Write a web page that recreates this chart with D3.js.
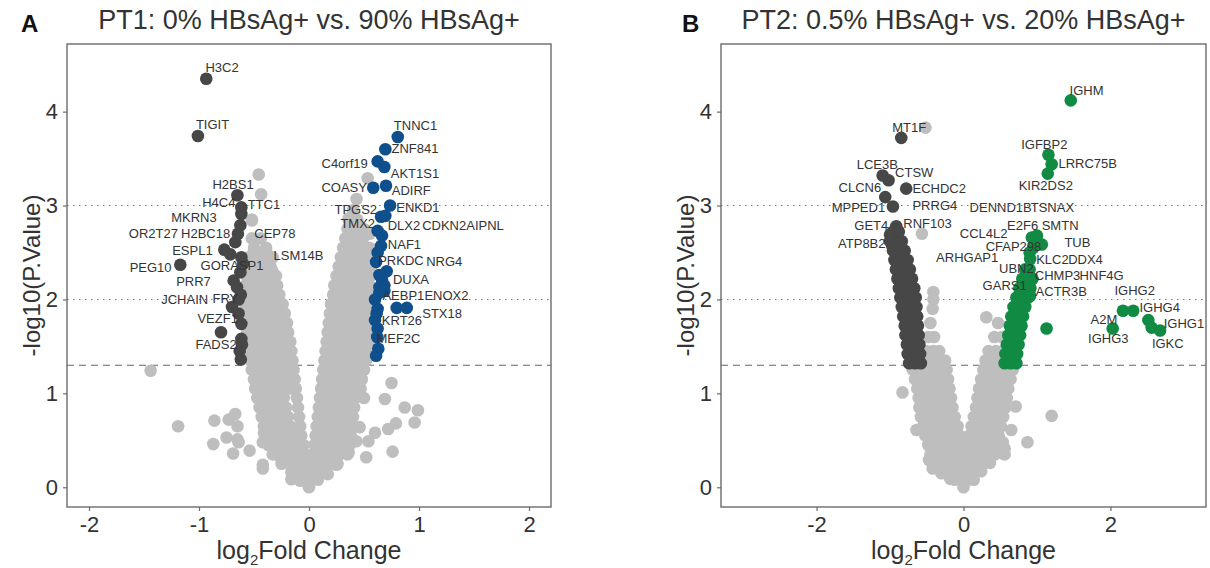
<!DOCTYPE html>
<html>
<head>
<meta charset="utf-8">
<title>Volcano plots PT1 / PT2</title>
<script src="https://cdn.jsdelivr.net/npm/d3@7"></script>
<style>
  body { margin: 0; background: #fff; }
  svg text { font-family: "Liberation Sans", Arial, sans-serif; }
</style>
</head>
<body>
<div id="chart"></div>
<script>
// ---- data (log2FC, -log10 P) ----
// rows: [y, x1, x2, ...]   pairs: [x, y]
var yTicks = [0, 1, 2, 3, 4];
var xTicksA = [-2, -1, 0, 1, 2];
var xTicksB = [-2, 0, 2];
var titles = ["PT1: 0% HBsAg+ vs. 90% HBsAg+", "PT2: 0.5% HBsAg+ vs. 20% HBsAg+"];
var panelTags = ["A", "B"];

var grayRowsA = [
  [0.0, 0.0],
  [0.08, -0.08, 0.0, 0.08],
  [0.16, -0.16, -0.08, 0.0, 0.08, 0.16],
  [0.25, -0.25, -0.17, -0.09, -0.02, 0.03, 0.11, 0.19, 0.26],
  [0.35, -0.33, -0.25, -0.17, -0.09, -0.03, 0.04, 0.12, 0.2, 0.28, 0.35],
  [0.45, -0.37, -0.29, -0.21, -0.13, -0.05, 0.05, 0.13, 0.21, 0.29, 0.37],
  [0.55, -0.39, -0.31, -0.23, -0.15, -0.07, 0.06, 0.14, 0.22, 0.3, 0.38],
  [0.65, -0.41, -0.33, -0.25, -0.17, -0.08, 0.07, 0.15, 0.23, 0.31, 0.39],
  [0.75, -0.43, -0.35, -0.27, -0.19, -0.09, 0.08, 0.16, 0.24, 0.32, 0.4],
  [0.85, -0.45, -0.37, -0.29, -0.21, -0.1, 0.09, 0.17, 0.25, 0.33, 0.41],
  [0.95, -0.47, -0.39, -0.31, -0.23, -0.11, 0.1, 0.18, 0.26, 0.34, 0.42],
  [1.05, -0.49, -0.41, -0.33, -0.25, -0.17, -0.12, 0.11, 0.19, 0.27, 0.35, 0.43, 0.47],
  [1.15, -0.5, -0.42, -0.34, -0.26, -0.18, -0.13, 0.12, 0.2, 0.28, 0.36, 0.44, 0.48],
  [1.25, -0.52, -0.44, -0.36, -0.28, -0.2, -0.14, 0.13, 0.21, 0.29, 0.37, 0.45, 0.5],
  [1.35, -0.53, -0.45, -0.37, -0.29, -0.21, -0.15, 0.14, 0.22, 0.3, 0.38, 0.46, 0.52],
  [1.45, -0.54, -0.46, -0.38, -0.3, -0.22, -0.16, 0.15, 0.23, 0.31, 0.39, 0.47, 0.54],
  [1.55, -0.55, -0.47, -0.39, -0.31, -0.23, -0.17, 0.16, 0.24, 0.32, 0.4, 0.48, 0.55],
  [1.65, -0.56, -0.48, -0.4, -0.32, -0.24, -0.19, 0.17, 0.25, 0.33, 0.41, 0.49, 0.56],
  [1.75, -0.57, -0.49, -0.41, -0.33, -0.25, -0.2, 0.18, 0.26, 0.34, 0.42, 0.5, 0.57],
  [1.85, -0.57, -0.49, -0.41, -0.33, -0.26, -0.22, 0.19, 0.27, 0.35, 0.43, 0.51, 0.58],
  [1.95, -0.58, -0.5, -0.42, -0.34, -0.27, -0.24, 0.2, 0.28, 0.36, 0.44, 0.52, 0.58],
  [2.05, -0.58, -0.5, -0.42, -0.34, -0.27, 0.22, 0.3, 0.38, 0.46, 0.54, 0.58],
  [2.15, -0.58, -0.5, -0.42, -0.35, -0.29, 0.23, 0.31, 0.39, 0.47, 0.55],
  [2.25, -0.57, -0.5, -0.43, -0.36, -0.3, 0.25, 0.33, 0.41, 0.49, 0.56],
  [2.35, -0.56, -0.49, -0.42, -0.35, 0.27, 0.35, 0.43, 0.51, 0.57],
  [2.45, -0.55, -0.47, -0.4, -0.33, 0.29, 0.37, 0.45, 0.53],
  [2.55, -0.5, -0.39, 0.31, 0.39, 0.47, 0.55],
  [2.65, -0.52, -0.44, 0.33, 0.41, 0.49],
  [2.75, 0.35, 0.43, 0.5],
  [2.85, -0.52, 0.36, 0.44],
  [2.95, 0.4]
];
var grayPairsA = [
  [-1.44, 1.24], [-1.19, 0.65], [-0.86, 0.71], [-0.73, 0.72], [-0.67, 0.78], [-0.65, 0.65],
  [-0.87, 0.46], [-0.75, 0.53], [-0.65, 0.51], [-0.64, 0.48], [-0.69, 0.36], [-0.54, 0.39],
  [-0.42, 0.48], [-0.41, 0.58], [-0.42, 0.24], [-0.42, 0.2], [-0.27, 0.33], [-0.16, 0.085],
  [-0.08, 0.07], [0.5, 0.95], [0.69, 0.94], [0.75, 1.11], [0.87, 0.85], [0.99, 0.82],
  [0.96, 0.69], [0.79, 0.68], [0.72, 0.62], [0.46, 0.64], [0.43, 0.49], [0.54, 0.49],
  [0.6, 0.58], [0.52, 0.32], [0.76, 0.38], [0.36, 0.37], [0.25, 0.24], [0.17, 0.14],
  [-0.457, 3.33], [-0.435, 3.12], [-0.518, 2.84], [-0.5, 2.52], [-0.39, 2.52], [-0.335, 2.31],
  [0.533, 3.29], [0.432, 3.07], [0.36, 2.86], [0.55, 2.7], [0.5, 2.56]
];
var downPairsA = [
  [-0.934, 4.35], [-1.01, 3.74], [-0.651, 3.11], [-0.615, 2.98], [-0.615, 2.91], [-0.624, 2.79],
  [-0.646, 2.7], [-0.67, 2.61], [-0.77, 2.53], [-0.715, 2.48], [-0.615, 2.45], [-1.17, 2.37],
  [-0.624, 2.29], [-0.685, 2.2], [-0.654, 2.13], [-0.64, 2.0], [-0.7, 1.92], [-0.615, 1.74],
  [-0.8, 1.65], [-0.615, 1.58], [-0.63, 1.45], [-0.61, 1.52], [-0.64, 1.85], [-0.62, 2.05],
  [-0.6, 2.38], [-0.62, 1.36]
];
var upPairsA = [
  [0.807, 3.73], [0.694, 3.6], [0.624, 3.47], [0.685, 3.41], [0.584, 3.19], [0.7, 3.21],
  [0.737, 3.0], [0.655, 2.88], [0.694, 2.89], [0.624, 2.73], [0.664, 2.68], [0.655, 2.57],
  [0.624, 2.5], [0.706, 2.3], [0.64, 2.26], [0.664, 2.21], [0.685, 2.15], [0.64, 2.13],
  [0.685, 2.09], [0.64, 2.07], [0.797, 1.91], [0.889, 1.91], [0.624, 1.9], [0.615, 1.85],
  [0.624, 1.69], [0.63, 1.475], [0.6, 1.78], [0.62, 1.6], [0.61, 1.4], [0.6, 2.0], [0.61, 2.4]
];
// gene labels: [text, x, y] (text centre)
var labelsA = [
  ["H3C2", -0.79, 4.47], ["TIGIT", -0.877, 3.86], ["H2BS1", -0.69, 3.22], ["H4C4", -0.82, 3.03],
  ["TTC1", -0.41, 3.01], ["MKRN3", -1.046, 2.87], ["OR2T27", -1.415, 2.7], ["H2BC18", -0.94, 2.7],
  ["CEP78", -0.31, 2.7], ["ESPL1", -1.06, 2.52], ["LSM14B", -0.096, 2.47], ["PEG10", -1.44, 2.34],
  ["GORASP1", -0.7, 2.36], ["PRR7", -1.05, 2.19], ["JCHAIN", -1.13, 2.0], ["FRY", -0.76, 2.01],
  ["VEZF1", -0.83, 1.8], ["FADS2", -0.845, 1.52],
  ["TNNC1", 0.968, 3.85], ["ZNF841", 0.963, 3.61], ["C4orf19", 0.324, 3.45], ["AKT1S1", 0.963, 3.34],
  ["COASY", 0.32, 3.19], ["ADIRF", 0.93, 3.16], ["ENKD1", 0.99, 2.98], ["TPGS2", 0.425, 2.96],
  ["TMX2", 0.443, 2.81], ["DLX2", 0.863, 2.79], ["CDKN2AIPNL", 1.4, 2.79], ["NAF1", 0.868, 2.59],
  ["PRKDC", 0.836, 2.41], ["NRG4", 1.23, 2.4], ["DUXA", 0.927, 2.21], ["AEBP1", 0.858, 2.04],
  ["ENOX2", 1.25, 2.04], ["STX18", 1.21, 1.85], ["KRT26", 0.845, 1.78], ["MEF2C", 0.813, 1.59]
];

var grayRowsB = [
  [0.0, 0.0],
  [0.08, -0.12, -0.03, 0.06, 0.14],
  [0.17, -0.25, -0.15, -0.05, 0.05, 0.15, 0.24],
  [0.26, -0.4, -0.3, -0.2, -0.1, -0.01, 0.08, 0.18, 0.28, 0.36],
  [0.35, -0.45, -0.35, -0.25, -0.15, -0.05, 0.03, 0.13, 0.23, 0.33, 0.43],
  [0.45, -0.48, -0.38, -0.28, -0.18, -0.08, -0.02, 0.05, 0.15, 0.25, 0.35, 0.45],
  [0.55, -0.52, -0.42, -0.32, -0.22, -0.12, -0.05, 0.08, 0.18, 0.28, 0.38, 0.48],
  [0.65, -0.55, -0.45, -0.35, -0.25, -0.15, -0.08, 0.11, 0.21, 0.31, 0.41, 0.51],
  [0.75, -0.58, -0.48, -0.38, -0.28, -0.18, -0.12, 0.14, 0.24, 0.34, 0.44, 0.54],
  [0.85, -0.6, -0.5, -0.4, -0.3, -0.2, -0.15, 0.17, 0.27, 0.37, 0.47, 0.57],
  [0.95, -0.61, -0.51, -0.41, -0.31, -0.21, -0.17, 0.19, 0.29, 0.39, 0.49, 0.59],
  [1.05, -0.63, -0.53, -0.43, -0.33, -0.23, -0.19, 0.21, 0.31, 0.41, 0.51, 0.61],
  [1.15, -0.66, -0.56, -0.46, -0.36, -0.26, -0.21, 0.24, 0.34, 0.44, 0.54, 0.64],
  [1.25, -0.69, -0.59, -0.49, -0.39, -0.29, -0.23, 0.27, 0.37, 0.47, 0.57, 0.67],
  [1.35, -0.52, -0.42, -0.32, -0.25, 0.3, 0.4, 0.5],
  [1.45, -0.5, -0.41, -0.33, 0.34, 0.44, 0.53],
  [1.6, -0.48, -0.4, 0.42, 0.52],
  [1.75, -0.45, 0.47],
  [1.9, -0.42]
];
var grayPairsB = [
  [-0.83, 1.01], [-0.64, 0.61], [-0.55, 0.6], [-0.47, 0.29], [-0.42, 0.2], [-0.3, 0.15],
  [-0.18, 0.09], [0.71, 0.86], [1.2, 0.76], [0.87, 0.48], [0.65, 0.61], [0.535, 0.48],
  [0.56, 0.41], [0.56, 0.35], [0.54, 0.36], [-0.41, 2.08], [-0.41, 2.0], [-0.517, 3.83],
  [-0.566, 2.7], [0.31, 1.81]
];
var downRowsB = [
  [1.32, -0.58, -0.66, -0.74], [1.42, -0.59, -0.67, -0.76], [1.52, -0.6, -0.68, -0.77],
  [1.62, -0.61, -0.69, -0.79], [1.72, -0.62, -0.7, -0.8], [1.82, -0.63, -0.72, -0.82],
  [1.92, -0.64, -0.73, -0.84], [2.02, -0.65, -0.75, -0.86], [2.12, -0.67, -0.77, -0.88],
  [2.22, -0.7, -0.79, -0.9], [2.32, -0.73, -0.82, -0.92], [2.42, -0.76, -0.85, -0.94],
  [2.52, -0.8, -0.88, -0.96], [2.62, -0.84, -0.92, -1.0], [2.72, -0.88, -0.96]
];
var downPairsB = [
  [-0.847, 3.72], [-1.1, 3.32], [-1.02, 3.27], [-1.065, 3.09], [-0.78, 3.18], [-0.96, 2.99],
  [-0.915, 2.78], [-1.0, 2.69], [-0.88, 2.59], [-0.97, 2.57]
];
var upRowsB = [
  [1.32, 0.56, 0.64, 0.72], [1.42, 0.57, 0.65, 0.73], [1.52, 0.59, 0.67, 0.75],
  [1.62, 0.61, 0.69, 0.77], [1.72, 0.63, 0.71, 0.79], [1.82, 0.65, 0.73, 0.81],
  [1.92, 0.68, 0.76, 0.84], [2.02, 0.72, 0.8, 0.88], [2.12, 0.76, 0.84, 0.91],
  [2.22, 0.8, 0.88, 0.94], [2.32, 0.84, 0.9]
];
var upPairsB = [
  [1.46, 4.12], [1.156, 3.54], [1.2, 3.44], [1.147, 3.34], [0.93, 2.66], [1.0, 2.68],
  [1.04, 2.59], [1.066, 2.585], [0.907, 2.43], [0.86, 2.22], [0.907, 2.2], [0.88, 2.08],
  [0.907, 2.04], [2.17, 1.88], [2.31, 1.88], [2.515, 1.78], [2.56, 1.7], [2.675, 1.67],
  [2.03, 1.69], [1.13, 1.69], [0.95, 2.55], [0.9, 2.5]
];
var labelsB = [
  ["MT1F", -0.738, 3.83], ["LCE3B", -1.173, 3.44], ["CTSW", -0.67, 3.35], ["CLCN6", -1.41, 3.19],
  ["ECHDC2", -0.33, 3.18], ["MPPED1", -1.43, 2.98], ["PRRG4", -0.39, 3.0], ["GET4", -1.255, 2.79],
  ["RNF103", -0.49, 2.81], ["ATP8B2", -1.384, 2.6], ["ARHGAP1", 0.05, 2.45],
  ["IGHM", 1.675, 4.23], ["IGFBP2", 1.1, 3.65], ["LRRC75B", 1.69, 3.45], ["KIR2DS2", 1.12, 3.21],
  ["DENND1B", 0.506, 2.98], ["TSNAX", 1.21, 2.98], ["CCL4L2", 0.275, 2.7], ["E2F6", 0.805, 2.79],
  ["SMTN", 1.315, 2.79], ["TUB", 1.55, 2.61], ["CFAP298", 0.68, 2.56], ["KLC2", 1.21, 2.43],
  ["DDX4", 1.66, 2.43], ["UBN2", 0.72, 2.33], ["CHMP3", 1.28, 2.255], ["HNF4G", 1.88, 2.255],
  ["GARS1", 0.56, 2.15], ["ACTR3B", 1.33, 2.08], ["IGHG2", 2.33, 2.1], ["IGHG4", 2.67, 1.92],
  ["A2M", 1.91, 1.79], ["IGHG1", 3.0, 1.74], ["IGKC", 2.78, 1.535], ["IGHG3", 1.97, 1.58]
];

var pCut = 1.3;          // -log10(0.05)
var refLines = [2, 3];

// ---- layout ----
var width = 1210, height = 568;
var plotTop = 44, plotBottom = 507;
var yDomain = [-0.21, 4.72];
var colGray = "#bebebe", colDown = "#474747", colA = "#0f4f8c", colB = "#118a44";

function rowsToPairs(rows) {
  var out = [];
  rows.forEach(function(r) {
    for (var i = 1; i < r.length; i++) out.push([r[i], r[0]]);
  });
  return out;
}

var panels = [
  { tag: panelTags[0], tagX: 21, title: titles[0], left: 67, right: 551, xDomain: [-2.2, 2.2], xTicks: xTicksA,
    gray: rowsToPairs(grayRowsA).concat(grayPairsA), down: downPairsA, up: upPairsA,
    upColor: colA, labels: labelsA },
  { tag: panelTags[1], tagX: 682, title: titles[1], left: 721, right: 1206, xDomain: [-3.3, 3.3], xTicks: xTicksB,
    gray: rowsToPairs(grayRowsB).concat(grayPairsB), down: rowsToPairs(downRowsB).concat(downPairsB),
    up: rowsToPairs(upRowsB).concat(upPairsB), upColor: colB, labels: labelsB }
];

var svg = d3.select("#chart").append("svg")
  .attr("width", width)
  .attr("height", height)
  .style("background", "#fff");

panels.forEach(function(p, i) {
  var x = d3.scaleLinear().domain(p.xDomain).range([p.left, p.right]);
  var y = d3.scaleLinear().domain(yDomain).range([plotBottom, plotTop]);
  var g = svg.append("g");
  var cx = (p.left + p.right) / 2;

  g.append("clipPath").attr("id", "clip" + i)
    .append("rect").attr("x", p.left).attr("y", plotTop)
    .attr("width", p.right - p.left).attr("height", plotBottom - plotTop);

  var inner = g.append("g").attr("clip-path", "url(#clip" + i + ")");

  // threshold lines
  inner.selectAll("line.ref").data(refLines).enter().append("line")
    .attr("x1", p.left).attr("x2", p.right)
    .attr("y1", function(d) { return y(d); }).attr("y2", function(d) { return y(d); })
    .attr("stroke", "#7a7a7a").attr("stroke-width", 1.1).attr("stroke-dasharray", "1.5,4.5");
  inner.append("line")
    .attr("x1", p.left).attr("x2", p.right).attr("y1", y(pCut)).attr("y2", y(pCut))
    .attr("stroke", "#666").attr("stroke-width", 1.1).attr("stroke-dasharray", "7,5");

  function dots(data, color) {
    inner.append("g").selectAll("circle").data(data).enter().append("circle")
      .attr("cx", function(d) { return x(d[0]); })
      .attr("cy", function(d) { return y(d[1]); })
      .attr("r", 6.3)
      .attr("fill", color);
  }
  dots(p.gray, colGray);
  dots(p.down, colDown);
  dots(p.up, p.upColor);

  // gene labels
  g.append("g").selectAll("text").data(p.labels).enter().append("text")
    .attr("x", function(d) { return x(d[1]); })
    .attr("y", function(d) { return y(d[2]); })
    .attr("dy", "0.35em")
    .attr("text-anchor", "middle")
    .attr("font-size", 13)
    .attr("fill", "#333")
    .text(function(d) { return d[0]; });

  // panel border
  g.append("rect").attr("x", p.left).attr("y", plotTop)
    .attr("width", p.right - p.left).attr("height", plotBottom - plotTop)
    .attr("fill", "none").attr("stroke", "#6b6b6b").attr("stroke-width", 1.4);

  // axes
  var ya = g.append("g").attr("transform", "translate(" + p.left + ",0)")
    .call(d3.axisLeft(y).tickValues(yTicks).tickFormat(d3.format("d")).tickSize(4).tickPadding(5));
  var xa = g.append("g").attr("transform", "translate(0," + plotBottom + ")")
    .call(d3.axisBottom(x).tickValues(p.xTicks).tickFormat(d3.format("d")).tickSize(4).tickPadding(5));
  [ya, xa].forEach(function(a) {
    a.select(".domain").remove();
    a.selectAll(".tick line").attr("stroke", "#6b6b6b").attr("stroke-width", 1.2);
    a.selectAll(".tick text").attr("fill", "#333").attr("font-size", 22)
      .style("font-family", "\"Liberation Sans\", Arial, sans-serif");
  });
  // use a plain hyphen for negative tick labels, as in the original
  xa.selectAll(".tick text").text(function(d) { return String(d); });

  // axis titles
  g.append("text")
    .attr("transform", "translate(" + (p.left - 27) + "," + ((plotTop + plotBottom) / 2) + ") rotate(-90)")
    .attr("text-anchor", "middle")
    .attr("font-size", 24).attr("fill", "#333")
    .text("-log10(P.Value)");
  var xt = g.append("text")
    .attr("x", cx).attr("y", 559)
    .attr("text-anchor", "middle")
    .attr("font-size", 25).attr("fill", "#333");
  xt.append("tspan").text("log");
  xt.append("tspan").attr("font-size", 15).attr("dy", 6).text("2");
  xt.append("tspan").attr("dy", -6).text("Fold Change");

  // title and tag
  g.append("text").attr("x", cx).attr("y", 29)
    .attr("text-anchor", "middle").attr("font-size", 27).attr("fill", "#333")
    .text(p.title);
  g.append("text").attr("x", p.tagX).attr("y", 32)
    .attr("font-size", 24).attr("font-weight", "bold").attr("fill", "#111")
    .text(p.tag);
});
</script>
</body>
</html>
